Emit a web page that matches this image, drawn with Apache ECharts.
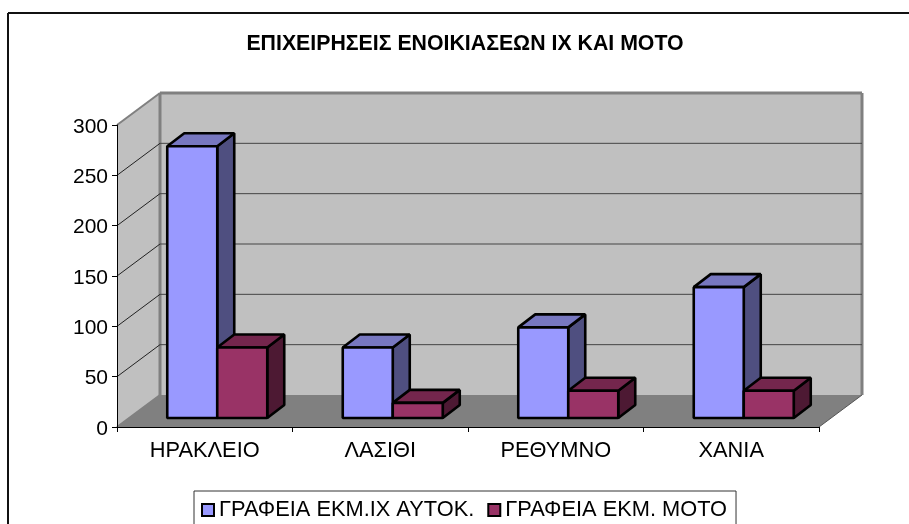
<!DOCTYPE html>
<html><head><meta charset="utf-8">
<style>html,body{margin:0;padding:0;background:#fff}#c{width:909px;height:524px}</style>
<script src="https://cdn.jsdelivr.net/npm/echarts@6/dist/echarts.min.js"></script>
</head><body><div id="c"></div>
<script>
const titleText = 'ΕΠΙΧΕΙΡΗΣΕΙΣ ΕΝΟΙΚΙΑΣΕΩΝ ΙΧ ΚΑΙ ΜΟΤΟ';
const categories = ['ΗΡΑΚΛΕΙΟ', 'ΛΑΣΙΘΙ', 'ΡΕΘΥΜΝΟ', 'ΧΑΝΙΑ'];
const carOffices = [270, 70, 90, 130];
const motoOffices = [70, 15, 27, 27];
const gridTicks = [50, 100, 150, 200, 250];
const carName = 'ΓΡΑΦΕΙΑ ΕΚΜ.ΙΧ ΑΥΤΟΚ.';
const motoName = 'ΓΡΑΦΕΙΑ ΕΚΜ. ΜΟΤΟ';

const DX = 43, DY = 32;           // full depth of the 3D box
const BDX = 17, BDY = 13;         // depth of one bar
const FDX = 12.5, FDY = 9;        // bar front plane inside the box
const BAR = 50;                   // bar width

function poly(points, fill, stroke, lw) {
  return { type: 'polygon', shape: { points }, style: { fill, stroke: stroke || null, lineWidth: lw || 0, lineJoin: 'bevel' } };
}
function line(x1, y1, x2, y2, stroke, lw) {
  return { type: 'line', shape: { x1, y1, x2, y2 }, style: { stroke, lineWidth: lw, fill: null } };
}
function wallsItem(params) {
  const s = params.coordSys, l = s.x, r = s.x + s.width, t = s.y, b = s.y + s.height;
  return { type: 'group', children: [
    poly([[l + DX, t - DY], [r + DX, t - DY], [r + DX, b - DY], [l + DX, b - DY]], '#C0C0C0'),
    poly([[l, t], [l + DX, t - DY], [l + DX, b - DY], [l, b]], '#C0C0C0'),
    poly([[l, b], [l + DX, b - DY], [r + DX, b - DY], [r, b]], '#808080'),
    line(l, t, l + DX, t - DY, '#808080', 2),
    line(l + DX, t - DY, r + DX, t - DY, '#808080', 3),
    line(l + DX, t - DY, l + DX, b - DY, '#808080', 3),
    line(r + DX, t - DY, r + DX, b - DY, '#808080', 3),
    line(l, b, l + DX, b - DY, '#808080', 2),
    line(r, b, r + DX, b - DY, '#555555', 1)
  ]};
}
function gridItem(params, api) {
  const s = params.coordSys, y = api.coord([0, api.value(0)])[1], l = s.x, r = s.x + s.width;
  return { type: 'group', children: [
    line(l, y, l + DX, y - DY, '#222222', 1),
    line(l + DX, y - DY, r + DX, y - DY, '#444444', 1)
  ]};
}
function barItem(side, front, top, dark) {
  return function (params, api) {
    const idx = api.value(0), v = api.value(1);
    const cx = api.coord([idx, 0])[0] + FDX;
    const base = api.coord([idx, 0])[1] - FDY;
    const topY = api.coord([idx, v])[1] - FDY;
    const x0 = side < 0 ? cx - BAR : cx, x1 = x0 + BAR;
    const st = '#000', lw = 2.6;
    return { type: 'group', children: [
      poly([[x1, topY], [x1 + BDX, topY - BDY], [x1 + BDX, base - BDY], [x1, base]], dark, st, lw),
      poly([[x0, topY], [x0 + BDX, topY - BDY], [x1 + BDX, topY - BDY], [x1, topY]], top, st, lw),
      poly([[x0, topY], [x1, topY], [x1, base], [x0, base]], front, st, lw)
    ]};
  };
}
const chart = echarts.init(document.getElementById('c'), null, { renderer: 'canvas', width: 909, height: 524 });
chart.setOption({
  animation: false,
  backgroundColor: '#fff',
  textStyle: { fontFamily: '"Liberation Sans", Arial, sans-serif' },
  title: { text: titleText, left: 460, textAlign: 'center', top: 29,
    textStyle: { fontSize: 21.3, fontWeight: 'bold', color: '#000', fontFamily: '"Liberation Sans"' } },
  legend: { data: [carName, motoName], left: 194, top: 491, orient: 'horizontal', icon: 'rect',
    itemWidth: 12, itemHeight: 12, itemGap: 13, padding: [8, 9, 20, 7], borderColor: '#333', borderWidth: 1,
    itemStyle: { borderColor: '#000', borderWidth: 2 },
    textStyle: { fontSize: 21.8, color: '#000', fontFamily: '"Liberation Sans"' }, selectedMode: false },
  grid: { left: 117, top: 125, width: 702, height: 302, containLabel: false },
  xAxis: { type: 'category', data: categories, z: 5,
    axisLine: { show: true, lineStyle: { color: '#000', width: 1 } },
    axisTick: { show: true, length: 5, interval: 0, lineStyle: { color: '#000' } },
    axisLabel: { fontSize: 21.8, color: '#000', margin: 13, interval: 0, fontFamily: '"Liberation Sans"' },
    splitLine: { show: false } },
  yAxis: { type: 'value', min: 0, max: 300, interval: 50, z: 5,
    axisLine: { show: true, lineStyle: { color: '#000', width: 1 } },
    axisTick: { show: true, length: 5, lineStyle: { color: '#000' } },
    axisLabel: { color: '#000', margin: 9, formatter: '{a|{value}}',
      rich: { a: { fontSize: 21, color: '#000', padding: [4, 0, 0, 0], fontFamily: '"Liberation Sans"' } } },
    splitLine: { show: false } },
  graphic: [
    { type: 'line', z: 10, shape: { x1: 8, y1: 13, x2: 909, y2: 13 }, style: { stroke: '#111', lineWidth: 2 } },
    { type: 'line', z: 10, shape: { x1: 8, y1: 13, x2: 8, y2: 524 }, style: { stroke: '#111', lineWidth: 2 } }
  ],
  series: [
    { type: 'custom', name: 'walls', z: 0, silent: true, clip: false, data: [[0, 300]], renderItem: wallsItem },
    { type: 'custom', name: 'grid', z: 1, silent: true, clip: false, data: gridTicks.map(v => [v]), encode: { y: 0 }, renderItem: gridItem },
    { type: 'custom', name: carName, z: 6, clip: false, itemStyle: { color: '#9999FF' },
      data: carOffices.map((v, i) => [i, v]), encode: { x: 0, y: 1 },
      renderItem: barItem(-1, '#9999FF', '#7777C0', '#4F4F80') },
    { type: 'custom', name: motoName, z: 7, clip: false, itemStyle: { color: '#993366' },
      data: motoOffices.map((v, i) => [i, v]), encode: { x: 0, y: 1 },
      renderItem: barItem(1, '#993366', '#74264D', '#4D1933') }
  ]
});
</script></body></html>
